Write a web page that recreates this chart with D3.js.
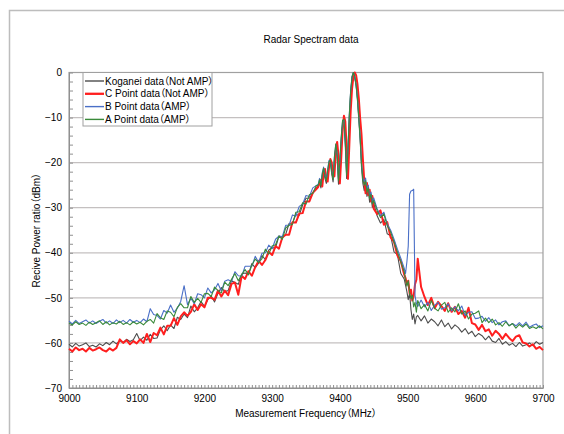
<!DOCTYPE html>
<html>
<head>
<meta charset="utf-8">
<script src="https://cdn.jsdelivr.net/npm/d3@7"></script>
<style>
body { margin: 0; background: #fff; overflow: hidden; }
text { font-family: "Liberation Sans", Arial, "Noto Sans CJK JP", sans-serif; fill: #000; font-feature-settings: "palt"; }
</style>
</head>
<body>
<div id="chart"></div>
<script>
// frequency grid (MHz) - finer around the main lobe and the B point spike
const freq = [
  9000,9005,9010,9015,9020,9025,9030,9035,9040,9045,
  9050,9055,9060,9065,9070,9075,9080,9085,9090,9095,
  9100,9105,9110,9115,
  9120,9125,9130,9135,9140,9145,9150,9155,9160,9165,
  9170,9175,9180,9185,9190,9195,9200,9205,9210,9215,
  9220,9225,9230,9235,9240,9245,9250,9255,9260,9265,
  9270,9275,9280,9285,9290,9295,9300,9305,9310,9315,
  9320,9325,9330,9335,9340,9345,9350,9355,9360,9365,
  9368,9370,9372,9374,9376,9378,9380,9382,9384,9386,
  9388,9390,9392,9394,9396,9398,9400,9402,9404,9406,
  9408,9410,9412,9414,9416,9418,9420,9422,9424,9426,
  9428,9430,9432,9434,9436,9438,9440,9442,9444,9446,
  9448,9450,
  9455,9460,9465,9470,9475,9480,9485,9490,9495,
  9497,9499,9501,9503,9505,9507,9509,9511,9513,
  9515,9520,9525,9530,9535,9540,9545,9550,9555,9560,
  9565,9570,9575,9580,9585,9590,9595,9600,9605,9610,
  9615,9620,9625,9630,9635,9640,9645,9650,9655,9660,
  9665,9670,9675,9680,9685,9690,9695,9700
];

const koganei = [
  -60.3,-60.9,-60.1,-60.7,-60.4,-60.0,-60.8,-60.5,-60.9,-60.2,
  -60.6,-59.9,-60.4,-59.6,-60.2,-59.5,-59.9,-59.2,-59.7,-59.3,
  -57.9,-59.5,-58.7,-59.4,
  -58.1,-59.0,-58.9,-57.1,-56.2,-57.3,-56.0,-56.8,-54.3,-54.8,
  -53.6,-54.4,-51.8,-53.1,-52.2,-50.8,-51.9,-50.4,-49.6,-50.9,
  -49.0,-47.7,-48.6,-48.4,-46.2,-46.6,-47.0,-44.7,-44.5,-44.8,
  -42.4,-43.3,-42.3,-40.6,-41.5,-39.4,-38.9,-38.9,-36.3,-36.6,
  -35.9,-33.5,-33.4,-31.5,-31.7,-29.4,-27.9,-27.9,-26.8,-25.5,
  -25.2,-24.3,-25.6,-23.0,-21.8,-23.5,-24.6,-22.4,-20.3,-20.0,
  -22.5,-24.3,-19.5,-16.8,-19.0,-24.8,-20.5,-15.2,-11.5,-11.2,
  -16.0,-23.5,-18.0,-10.0,-4.5,-1.2,0,-1.2,-2.9,-6.2,
  -10.5,-15.0,-21.0,-24.6,-26.2,-24.8,-27.5,-26.2,-28.8,-27.4,
  -29.9,-29.0,
  -31.8,-33.4,-32.6,-35.8,-36.2,-39.8,-40.4,-44.6,-45.8,
  -47.2,-48.6,-50.4,-49.0,-52.6,-54.8,-53.6,-55.8,-54.2,
  -53.9,-55.1,-54.0,-55.6,-54.7,-55.3,-56.2,-54.9,-56.4,-55.6,
  -56.9,-56.0,-56.6,-57.6,-56.8,-58.0,-57.4,-58.6,-57.9,-58.4,
  -59.3,-58.5,-59.6,-59.9,-59.0,-60.3,-59.7,-60.5,-60.1,-60.8,
  -59.9,-60.7,-60.4,-60.0,-60.6,-59.7,-60.3,-59.9
];

const pointC = [
  -61.3,-61.9,-61.0,-61.6,-61.3,-61.9,-61.1,-61.7,-61.4,-61.0,
  -61.6,-61.9,-61.2,-61.7,-61.1,-59.2,-60.0,-59.4,-60.3,-59.6,
  -60.1,-59.2,-60.0,-58.0,
  -59.8,-57.8,-58.3,-56.6,-58.1,-56.2,-56.2,-54.5,-56.0,-54.1,
  -53.2,-54.0,-53.1,-51.4,-52.7,-51.4,-52.1,-50.0,-50.0,-50.4,
  -48.4,-49.7,-48.4,-49.4,-46.9,-46.6,-49.3,-45.1,-45.8,-44.1,
  -45.1,-43.2,-41.8,-42.7,-41.6,-39.8,-40.5,-38.5,-39.1,-36.6,
  -36.0,-36.0,-33.2,-33.3,-31.3,-31.2,-28.6,-28.6,-26.7,-25.9,
  -25.4,-24.6,-23.8,-25.3,-22.4,-21.4,-23.6,-24.2,-21.0,-19.2,
  -20.0,-23.2,-23.0,-17.4,-15.4,-18.5,-24.6,-19.0,-13.0,-9.6,
  -10.8,-16.5,-23.6,-16.0,-8.5,-3.6,-1.0,0,-0.6,-2.6,
  -5.8,-10.2,-13.8,-19.2,-24.0,-26.8,-24.5,-27.2,-26.0,-28.6,
  -27.4,-30.2,
  -31.4,-30.6,-33.8,-33.2,-36.6,-37.6,-40.6,-41.8,-44.8,
  -45.6,-47.0,-46.2,-49.0,-48.2,-50.6,-49.6,-47.0,-46.0,
  -41.3,-47.6,-49.8,-51.6,-50.0,-52.3,-50.9,-51.8,-52.9,-51.2,
  -53.1,-52.0,-53.6,-52.9,-54.4,-52.2,-55.6,-55.9,-57.1,-56.0,
  -57.4,-57.0,-58.4,-57.3,-58.0,-59.1,-58.0,-58.9,-59.6,-58.6,
  -58.3,-59.9,-60.1,-60.8,-60.3,-61.3,-60.9,-61.6
];

const pointB = [
  -55.2,-55.8,-55.0,-55.7,-55.3,-54.9,-55.6,-55.1,-55.7,-55.2,
  -54.8,-55.6,-55.1,-55.7,-54.9,-55.5,-55.0,-55.6,-54.8,-55.4,
  -55.0,-55.5,-54.7,-55.3,
  -52.4,-53.7,-53.9,-54.7,-52.8,-53.4,-51.6,-53.2,-52.3,-50.8,
  -47.3,-51.5,-50.1,-51.3,-49.1,-49.3,-50.0,-47.8,-48.9,-48.2,
  -46.8,-48.5,-46.3,-46.0,-46.4,-44.2,-45.1,-45.2,-43.0,-43.0,
  -43.0,-40.8,-42.1,-40.1,-40.0,-38.3,-39.1,-37.0,-36.3,-36.4,
  -33.9,-33.9,-31.6,-31.9,-29.7,-29.2,-27.3,-27.5,-25.6,-25.1,
  -24.8,-23.5,-24.9,-22.2,-21.0,-22.8,-23.6,-21.5,-19.5,-19.6,
  -21.7,-23.4,-18.8,-16.0,-18.0,-23.6,-19.8,-14.6,-10.8,-10.6,
  -15.0,-22.5,-16.8,-9.2,-3.9,-0.8,0,-0.9,-2.7,-5.6,
  -9.8,-14.4,-20.0,-23.5,-24.2,-23.4,-26.0,-25.0,-27.5,-26.5,
  -28.8,-27.8,
  -30.2,-31.8,-31.0,-33.6,-35.0,-37.0,-39.2,-41.2,-43.4,
  -44.6,-42.0,-38.5,-27.0,-26.3,-26.2,-25.9,-49.5,-51.2,
  -51.9,-50.5,-52.0,-51.0,-52.8,-51.6,-51.0,-52.5,-52.2,-51.3,
  -52.9,-52.0,-52.9,-51.8,-53.9,-53.2,-53.1,-54.6,-54.5,-54.1,
  -55.2,-54.4,-55.5,-54.9,-56.0,-55.3,-55.1,-56.2,-55.7,-56.2,
  -55.5,-56.2,-55.4,-56.5,-56.1,-55.8,-56.6,-56.2
];

const pointA = [
  -55.6,-56.0,-55.3,-55.9,-55.6,-56.1,-55.4,-55.9,-55.5,-55.1,
  -55.9,-55.3,-56.0,-55.5,-55.8,-55.2,-55.9,-55.5,-56.0,-55.3,
  -55.8,-55.4,-56.0,-55.2,
  -54.8,-55.6,-53.5,-54.4,-54.8,-52.9,-53.2,-54.2,-52.1,-51.3,
  -52.2,-52.2,-49.7,-51.0,-50.1,-51.0,-49.1,-49.0,-49.7,-47.6,
  -48.4,-48.9,-46.5,-47.3,-45.9,-44.6,-46.2,-44.9,-43.7,-44.9,
  -42.8,-41.4,-42.2,-41.3,-39.2,-40.3,-38.5,-38.2,-36.3,-37.0,
  -34.5,-33.9,-33.7,-31.0,-30.9,-28.9,-29.2,-27.1,-26.8,-25.1,
  -25.0,-23.8,-25.1,-22.6,-21.2,-23.0,-24.0,-21.8,-19.8,-19.4,
  -22.0,-23.8,-18.6,-15.8,-18.2,-24.0,-19.5,-14.3,-10.6,-10.4,
  -15.2,-22.8,-17.0,-9.4,-4.0,-1.0,0,-0.8,-2.8,-5.8,
  -10.0,-14.6,-20.4,-23.8,-25.0,-24.0,-26.6,-25.6,-28.0,-27.0,
  -29.2,-28.4,
  -30.6,-32.2,-31.4,-34.0,-35.4,-37.6,-39.8,-42.0,-44.2,
  -46.0,-47.4,-46.2,-48.8,-50.2,-49.4,-52.0,-51.0,-53.2,
  -50.6,-52.4,-51.5,-52.9,-50.6,-52.3,-52.9,-51.6,-51.0,-53.2,
  -52.2,-53.1,-51.3,-53.6,-52.9,-54.7,-53.6,-53.4,-52.9,-55.5,
  -54.5,-55.5,-54.7,-56.0,-55.5,-56.3,-55.3,-56.2,-55.7,-56.7,
  -55.9,-56.5,-55.8,-56.8,-56.4,-56.8,-56.2,-56.9
];

const seriesNames = ['Koganei data（Not AMP）', 'C Point data（Not AMP）', 'B Point data（AMP）', 'A Point data（AMP）'];
const seriesColors = ['#4d4d4d', '#ff1f1f', '#4a6fc7', '#3a8a3a'];
const seriesWidths = [1.1, 2, 1.1, 1.1];
const xTicks = [9000, 9100, 9200, 9300, 9400, 9500, 9600, 9700];
const yTicks = [0, -10, -20, -30, -40, -50, -60, -70];

const width = 564;
const height = 434;
const margin = {left: 69, right: 21, top: 72.5, bottom: 46};

const svg = d3.select('#chart')
  .append('svg')
  .attr('width', width)
  .attr('height', height);

// outer chart frame (its right and bottom edges fall outside the picture)
svg.append('rect')
  .attr('x', 9.5)
  .attr('y', 10.5)
  .attr('width', 570)
  .attr('height', 440)
  .attr('fill', 'none')
  .attr('stroke', '#bdbdbd')
  .attr('stroke-width', 1.5);

const scaleX = d3.scaleLinear()
  .domain([9000, 9700])
  .range([margin.left, width - margin.right]);

const scaleY = d3.scaleLinear()
  .domain([-70, 0])
  .range([height - margin.bottom, margin.top]);

// gridlines
svg.append('g')
  .selectAll('line')
  .data(yTicks.slice(1, -1))
  .enter()
  .append('line')
  .attr('x1', scaleX(9000))
  .attr('x2', scaleX(9700))
  .attr('y1', d => scaleY(d))
  .attr('y2', d => scaleY(d))
  .attr('stroke', '#c4c0c0')
  .attr('stroke-width', 1.2);

// plot border
svg.append('rect')
  .attr('x', scaleX(9000))
  .attr('y', scaleY(0))
  .attr('width', scaleX(9700) - scaleX(9000))
  .attr('height', scaleY(-70) - scaleY(0))
  .attr('fill', 'none')
  .attr('stroke', '#a0a0a0')
  .attr('stroke-width', 1.2);

// axes
const yAxis = d3.axisLeft(scaleY)
  .tickValues(yTicks)
  .tickSize(0)
  .tickPadding(7);

const groupAxisY = svg.append('g')
  .attr('transform', `translate(${scaleX(9000)}, 0)`)
  .call(yAxis);
groupAxisY.select('.domain').attr('stroke', '#909090');
groupAxisY.selectAll('text').style('font-size', '10px');

const yMinor = d3.axisRight(scaleY)
  .tickValues(d3.range(-70, 1, 2))
  .tickSize(4)
  .tickFormat('');
svg.append('g')
  .attr('transform', `translate(${scaleX(9000)}, 0)`)
  .call(yMinor)
  .call(g => g.select('.domain').remove())
  .selectAll('line').attr('stroke', '#909090');

const xAxis = d3.axisBottom(scaleX)
  .tickValues(xTicks)
  .tickSize(0)
  .tickPadding(7)
  .tickFormat(d3.format('d'));

const groupAxisX = svg.append('g')
  .attr('transform', `translate(0, ${scaleY(-70)})`)
  .call(xAxis);
groupAxisX.select('.domain').attr('stroke', '#909090');
groupAxisX.selectAll('text').style('font-size', '10px');

const xMinor = d3.axisTop(scaleX)
  .tickValues(d3.range(9000, 9701, 5))
  .tickSize(3)
  .tickFormat('');
svg.append('g')
  .attr('transform', `translate(0, ${scaleY(-70)})`)
  .call(xMinor)
  .call(g => g.select('.domain').remove())
  .selectAll('line').attr('stroke', '#909090');

// series
const allSeries = [koganei, pointC, pointB, pointA];
const line = d3.line()
  .x((d, i) => scaleX(freq[i]))
  .y(d => scaleY(d));

svg.append('g')
  .selectAll('path')
  .data(allSeries)
  .enter()
  .append('path')
  .attr('d', line)
  .attr('fill', 'none')
  .attr('stroke', (d, i) => seriesColors[i])
  .attr('stroke-width', (d, i) => seriesWidths[i])
  .attr('stroke-linejoin', 'round');

// titles
svg.append('text')
  .attr('x', 311)
  .attr('y', 43)
  .attr('text-anchor', 'middle')
  .style('font-size', '10px')
  .text('Radar Spectram data');

svg.append('text')
  .attr('x', (scaleX(9000) + scaleX(9700)) / 2)
  .attr('y', 417)
  .attr('text-anchor', 'middle')
  .style('font-size', '10px')
  .text('Measurement Frequency（MHz）');

svg.append('text')
  .attr('transform', `translate(40, ${(scaleY(0) + scaleY(-70)) / 2}) rotate(-90)`)
  .attr('text-anchor', 'middle')
  .style('font-size', '10px')
  .text('Recive Power ratio（dBm）');

// legend
const legend = svg.append('g')
  .attr('transform', 'translate(83, 72.5)');

legend.append('rect')
  .attr('width', 129)
  .attr('height', 53.5)
  .attr('fill', '#fff')
  .attr('stroke', '#a0a0a0');

const legendItem = legend.selectAll('.item')
  .data(seriesNames)
  .enter()
  .append('g')
  .attr('class', 'item')
  .attr('transform', (d, i) => `translate(0, ${8.5 + i * 12.8})`);

legendItem.append('line')
  .attr('x1', 2)
  .attr('x2', 21)
  .attr('stroke', (d, i) => seriesColors[i])
  .attr('stroke-width', (d, i) => seriesWidths[i] + 0.3);

legendItem.append('text')
  .attr('x', 22)
  .attr('dy', '0.35em')
  .style('font-size', '10px')
  .text(d => d);
</script>
</body>
</html>
